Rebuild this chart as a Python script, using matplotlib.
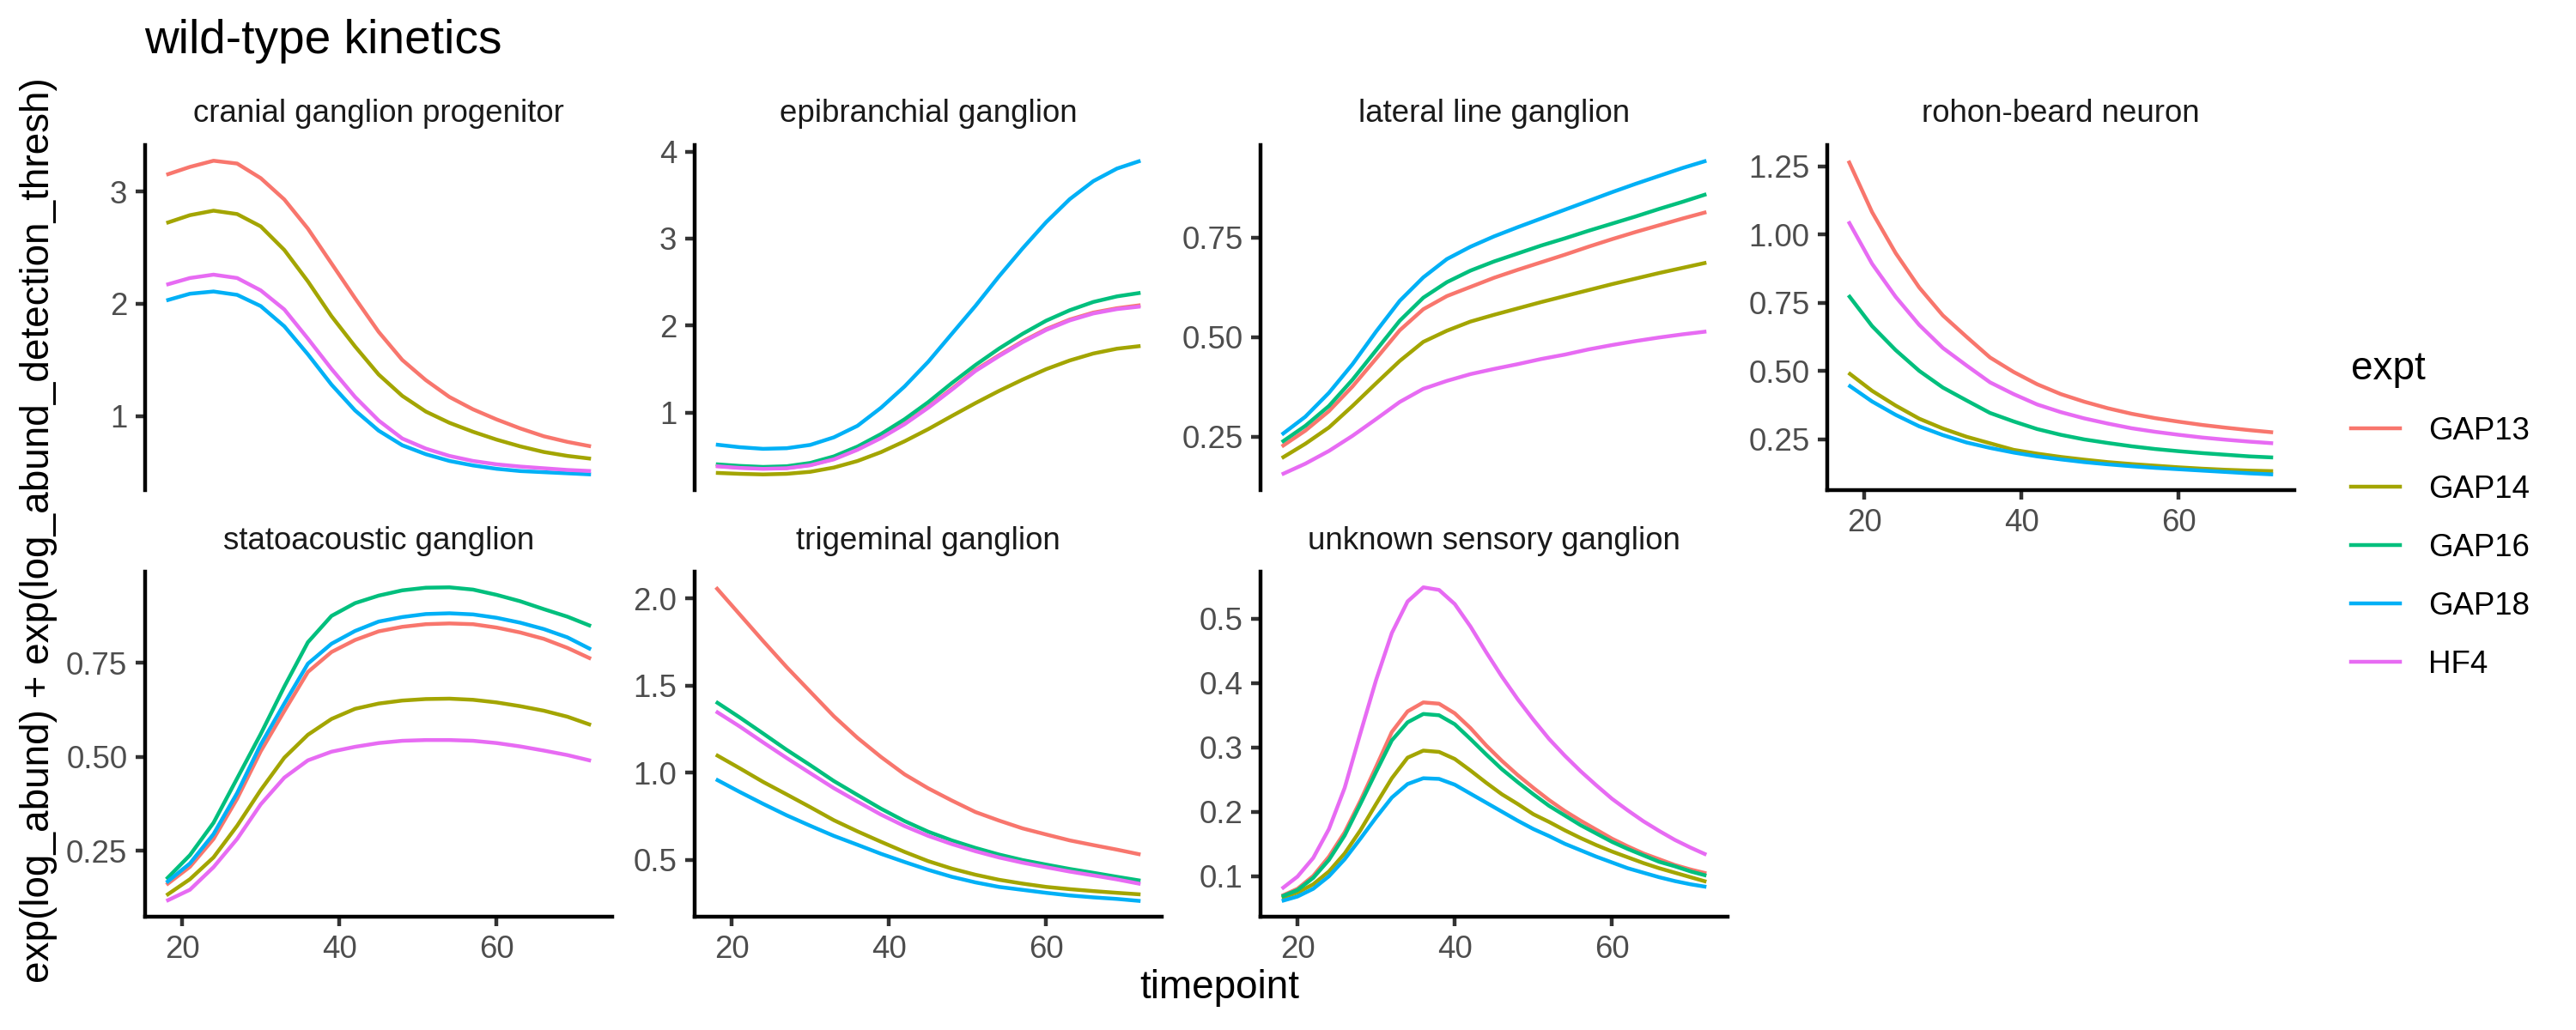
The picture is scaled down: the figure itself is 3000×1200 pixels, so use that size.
import matplotlib
matplotlib.use("Agg")
import matplotlib.pyplot as plt
from matplotlib.lines import Line2D

plt.rcParams['font.family'] = ['Liberation Sans', 'DejaVu Sans']

expts = ["GAP13", "GAP14", "GAP16", "GAP18", "HF4"]
colors = ["#F8766D", "#A3A500", "#00BF7D", "#00B0F6", "#E76BF3"]

# timepoints: smooth panels read every 3 h, unknown sensory every 2 h
time3 = list(range(18, 73, 3))
time2 = list(range(18, 73, 2))

cranial = {
    "GAP13": [3.15, 3.22, 3.275, 3.25, 3.12, 2.93, 2.67, 2.36, 2.05, 1.75, 1.50, 1.32, 1.17, 1.06, 0.97, 0.89, 0.82, 0.77, 0.73],
    "GAP14": [2.72, 2.79, 2.83, 2.80, 2.69, 2.48, 2.20, 1.89, 1.62, 1.37, 1.18, 1.04, 0.94, 0.86, 0.79, 0.73, 0.68, 0.645, 0.62],
    "GAP18": [2.03, 2.09, 2.11, 2.08, 1.98, 1.80, 1.55, 1.28, 1.05, 0.87, 0.74, 0.66, 0.60, 0.56, 0.53, 0.51, 0.50, 0.49, 0.48],
    "HF4": [2.17, 2.23, 2.26, 2.23, 2.12, 1.95, 1.69, 1.42, 1.17, 0.96, 0.80, 0.71, 0.645, 0.60, 0.57, 0.55, 0.535, 0.52, 0.51],
}
epibranchial = {
    "GAP13": [0.39, 0.37, 0.36, 0.365, 0.40, 0.47, 0.58, 0.715, 0.875, 1.065, 1.275, 1.49, 1.66, 1.82, 1.96, 2.07, 2.15, 2.20, 2.235],
    "GAP14": [0.309, 0.298, 0.291, 0.298, 0.321, 0.370, 0.445, 0.547, 0.672, 0.811, 0.962, 1.11, 1.25, 1.38, 1.50, 1.60, 1.68, 1.735, 1.766],
    "GAP16": [0.408, 0.389, 0.377, 0.385, 0.423, 0.498, 0.611, 0.755, 0.925, 1.121, 1.340, 1.547, 1.736, 1.906, 2.057, 2.177, 2.272, 2.336, 2.377],
    "GAP18": [0.634, 0.604, 0.585, 0.592, 0.630, 0.717, 0.849, 1.057, 1.302, 1.585, 1.906, 2.226, 2.566, 2.887, 3.189, 3.453, 3.660, 3.804, 3.894],
    "HF4": [0.385, 0.366, 0.355, 0.362, 0.396, 0.464, 0.574, 0.709, 0.868, 1.057, 1.264, 1.479, 1.65, 1.81, 1.95, 2.06, 2.14, 2.19, 2.22],
}
lateral = {
    "GAP13": [0.225, 0.265, 0.314, 0.376, 0.446, 0.517, 0.570, 0.603, 0.626, 0.649, 0.669, 0.688, 0.707, 0.727, 0.746, 0.764, 0.781, 0.798, 0.814],
    "GAP14": [0.196, 0.232, 0.273, 0.327, 0.384, 0.440, 0.488, 0.516, 0.539, 0.556, 0.572, 0.588, 0.603, 0.618, 0.633, 0.647, 0.661, 0.674, 0.687],
    "GAP16": [0.236, 0.277, 0.327, 0.393, 0.467, 0.541, 0.599, 0.638, 0.667, 0.690, 0.710, 0.730, 0.748, 0.767, 0.785, 0.803, 0.822, 0.840, 0.859],
    "GAP18": [0.255, 0.300, 0.360, 0.432, 0.514, 0.591, 0.650, 0.696, 0.727, 0.753, 0.776, 0.798, 0.820, 0.842, 0.864, 0.885, 0.905, 0.925, 0.943],
    "HF4": [0.155, 0.182, 0.214, 0.252, 0.294, 0.337, 0.370, 0.390, 0.407, 0.420, 0.432, 0.445, 0.456, 0.469, 0.480, 0.490, 0.499, 0.507, 0.514],
}
rohon = {
    "GAP13": [1.270, 1.082, 0.932, 0.806, 0.704, 0.626, 0.550, 0.497, 0.452, 0.416, 0.388, 0.364, 0.344, 0.328, 0.315, 0.303, 0.293, 0.284, 0.276],
    "GAP14": [0.494, 0.428, 0.374, 0.326, 0.290, 0.260, 0.236, 0.212, 0.198, 0.186, 0.176, 0.167, 0.160, 0.154, 0.148, 0.143, 0.139, 0.136, 0.134],
    "GAP16": [0.778, 0.665, 0.577, 0.501, 0.440, 0.393, 0.347, 0.316, 0.288, 0.267, 0.250, 0.237, 0.225, 0.215, 0.207, 0.200, 0.194, 0.188, 0.184],
    "GAP18": [0.449, 0.389, 0.340, 0.298, 0.266, 0.239, 0.219, 0.202, 0.188, 0.177, 0.167, 0.159, 0.152, 0.146, 0.141, 0.136, 0.131, 0.126, 0.122],
    "HF4": [1.048, 0.893, 0.772, 0.669, 0.585, 0.521, 0.459, 0.416, 0.378, 0.350, 0.327, 0.308, 0.291, 0.278, 0.267, 0.257, 0.249, 0.242, 0.236],
}
statoacoustic = {
    "GAP13": [0.160, 0.208, 0.282, 0.389, 0.515, 0.622, 0.726, 0.779, 0.811, 0.834, 0.846, 0.853, 0.855, 0.853, 0.844, 0.831, 0.814, 0.790, 0.761],
    "GAP14": [0.132, 0.175, 0.233, 0.317, 0.412, 0.498, 0.559, 0.601, 0.628, 0.642, 0.650, 0.654, 0.655, 0.652, 0.645, 0.635, 0.623, 0.607, 0.585],
    "GAP16": [0.175, 0.239, 0.325, 0.443, 0.561, 0.687, 0.805, 0.875, 0.909, 0.929, 0.943, 0.950, 0.951, 0.945, 0.931, 0.914, 0.893, 0.873, 0.848],
    "GAP18": [0.166, 0.217, 0.295, 0.404, 0.533, 0.642, 0.748, 0.801, 0.835, 0.860, 0.872, 0.880, 0.882, 0.879, 0.870, 0.857, 0.840, 0.818, 0.786],
    "HF4": [0.117, 0.147, 0.207, 0.282, 0.374, 0.445, 0.491, 0.514, 0.527, 0.537, 0.543, 0.545, 0.545, 0.543, 0.537, 0.528, 0.517, 0.505, 0.490],
}
trigeminal = {
    "GAP13": [2.064, 1.910, 1.756, 1.606, 1.465, 1.324, 1.200, 1.09, 0.99, 0.91, 0.84, 0.774, 0.725, 0.680, 0.645, 0.611, 0.584, 0.558, 0.530],
    "GAP14": [1.103, 1.026, 0.947, 0.875, 0.802, 0.727, 0.663, 0.603, 0.545, 0.492, 0.449, 0.414, 0.385, 0.363, 0.344, 0.331, 0.320, 0.310, 0.301],
    "GAP16": [1.407, 1.318, 1.225, 1.131, 1.043, 0.952, 0.872, 0.793, 0.722, 0.661, 0.611, 0.568, 0.530, 0.498, 0.472, 0.447, 0.425, 0.402, 0.380],
    "GAP18": [0.962, 0.890, 0.821, 0.755, 0.695, 0.637, 0.586, 0.534, 0.487, 0.442, 0.402, 0.370, 0.344, 0.327, 0.310, 0.295, 0.284, 0.275, 0.263],
    "HF4": [1.352, 1.266, 1.174, 1.084, 0.997, 0.911, 0.834, 0.759, 0.693, 0.637, 0.590, 0.549, 0.513, 0.483, 0.457, 0.432, 0.410, 0.387, 0.361],
}
unknown = {
    "GAP13": [0.069, 0.080, 0.100, 0.130, 0.168, 0.217, 0.270, 0.324, 0.356, 0.370, 0.368, 0.353, 0.330, 0.303, 0.279, 0.257, 0.237, 0.218, 0.201, 0.186, 0.172, 0.158, 0.146, 0.135, 0.126, 0.117, 0.110, 0.104],
    "GAP14": [0.066, 0.074, 0.087, 0.107, 0.135, 0.171, 0.212, 0.252, 0.284, 0.295, 0.293, 0.282, 0.264, 0.245, 0.227, 0.212, 0.196, 0.184, 0.171, 0.159, 0.148, 0.138, 0.129, 0.120, 0.112, 0.105, 0.098, 0.091],
    "GAP16": [0.068, 0.078, 0.097, 0.125, 0.163, 0.212, 0.262, 0.311, 0.339, 0.352, 0.350, 0.336, 0.313, 0.289, 0.266, 0.246, 0.227, 0.209, 0.194, 0.179, 0.166, 0.153, 0.142, 0.132, 0.122, 0.115, 0.107, 0.1005],
    "GAP18": [0.061, 0.068, 0.080, 0.0995, 0.126, 0.158, 0.191, 0.222, 0.243, 0.252, 0.251, 0.242, 0.228, 0.214, 0.200, 0.186, 0.173, 0.162, 0.150, 0.140, 0.130, 0.121, 0.112, 0.105, 0.098, 0.092, 0.087, 0.083],
    "HF4": [0.080, 0.099, 0.128, 0.173, 0.237, 0.322, 0.405, 0.478, 0.527, 0.549, 0.545, 0.523, 0.488, 0.448, 0.410, 0.375, 0.343, 0.313, 0.287, 0.263, 0.241, 0.220, 0.202, 0.185, 0.170, 0.156, 0.144, 0.133],
}

panels = [
    ("cranial ganglion progenitor", time3, cranial, [1, 2, 3], "{:.0f}"),
    ("epibranchial ganglion", time3, epibranchial, [1, 2, 3, 4], "{:.0f}"),
    ("lateral line ganglion", time3, lateral, [0.25, 0.50, 0.75], "{:.2f}"),
    ("rohon-beard neuron", time3, rohon, [0.25, 0.50, 0.75, 1.00, 1.25], "{:.2f}"),
    ("statoacoustic ganglion", time3, statoacoustic, [0.25, 0.50, 0.75], "{:.2f}"),
    ("trigeminal ganglion", time3, trigeminal, [0.5, 1.0, 1.5, 2.0], "{:.1f}"),
    ("unknown sensory ganglion", time2, unknown, [0.1, 0.2, 0.3, 0.4, 0.5], "{:.1f}"),
]

W, H = 3000, 1200
fig = plt.figure(figsize=(10, 4), dpi=300)

col_left = [169, 809, 1468, 2128]
panel_w = 544
row_top = [169, 666]
panel_h = 402
lw = 1.07

for i, (name, t, series, yticks, fmt) in enumerate(panels):
    r, c = divmod(i, 4)
    ax = fig.add_axes([col_left[c] / W, 1 - (row_top[r] + panel_h) / H, panel_w / W, panel_h / H])
    for e, col in zip(expts, colors):
        if e in series:
            ax.plot(t, series[e], color=col, lw=lw, solid_capstyle="butt", solid_joinstyle="round")
    ax.margins(x=0.05, y=0.05)
    ax.set_yticks(yticks)
    ax.set_yticklabels([fmt.format(v) for v in yticks])
    ax.set_xticks([20, 40, 60])
    for s in ["top", "right"]:
        ax.spines[s].set_visible(False)
    for s in ["left", "bottom"]:
        ax.spines[s].set_linewidth(lw)
        ax.spines[s].set_color("black")
    ax.tick_params(length=2.75, width=lw, color="#333333", labelsize=8.8,
                   labelcolor="#4D4D4D", pad=2.2)
    has_xaxis = (r == 1) or (c == 3)
    if not has_xaxis:
        ax.spines["bottom"].set_visible(False)
        ax.tick_params(axis="x", bottom=False, labelbottom=False)
    ax.text(0.5, 1 + 36 / panel_h, name, transform=ax.transAxes, ha="center",
            va="center", fontsize=8.8, color="#1A1A1A")

fig.text(168 / W, 1 - 62 / H, "wild-type kinetics", fontsize=13.2, va="baseline", ha="left")
fig.text(1420 / W, 1 - 1151 / H, "timepoint", fontsize=11, ha="center", va="center")
fig.text(45 / W, 1 - 618 / H, "exp(log_abund) + exp(log_abund_detection_thresh)",
         fontsize=11, rotation=90, ha="center", va="center")

handles = [Line2D([], [], color=col, lw=lw) for col in colors]
fig.legend(handles, expts, loc="upper left", bbox_to_anchor=(2738 / W, 1 - 408 / H),
           frameon=False, title="expt", title_fontsize=11, fontsize=8.8,
           handlelength=1.55, handletextpad=0.9, labelspacing=0.9,
           alignment="left", borderpad=0, borderaxespad=0)

fig.savefig("out.png", dpi=300)
